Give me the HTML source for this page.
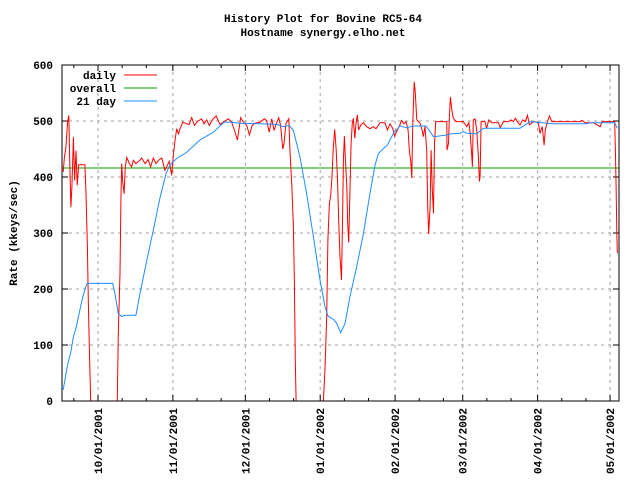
<!DOCTYPE html>
<html><head><meta charset="utf-8"><style>
body{margin:0;background:#fff}
svg text{font-family:"Liberation Mono",monospace;font-weight:bold;fill:#000}
</style></head><body>
<svg id="chart" width="640" height="480" viewBox="0 0 640 480" xmlns="http://www.w3.org/2000/svg">
<rect width="640" height="480" fill="#fff"/>
<text x="323" y="22" font-size="11" text-anchor="middle">History Plot for Bovine RC5-64</text>
<text x="323" y="36" font-size="11" text-anchor="middle">Hostname synergy.elho.net</text>
<text transform="translate(17,233) rotate(-90)" font-size="11" text-anchor="middle">Rate (kkeys/sec)</text>
<g id="grid"></g><g id="axes"></g><g id="series"></g>
<rect x="62" y="65" width="557" height="336" fill="none" stroke="#000" stroke-width="1"/>
<g>
<text x="116" y="79" font-size="11" text-anchor="end">daily</text>
<line x1="124" y1="75" x2="157" y2="75" stroke="#ff0000"/>
<text x="116" y="92" font-size="11" text-anchor="end">overall</text>
<line x1="124" y1="88" x2="157" y2="88" stroke="#00a000"/>
<text x="116" y="105" font-size="11" text-anchor="end">21 day</text>
<line x1="124" y1="101" x2="157" y2="101" stroke="#1e8cff"/>
</g>
</svg>
<script>
// x values = days since 10/01/2001
const monthDays=[0,31,61,92,123,151,182,212];
const monthLabels=["10/01/2001","11/01/2001","12/01/2001","01/01/2002","02/01/2002","03/01/2002","04/01/2002","05/01/2002"];
const yTicks=[0,100,200,300,400,500,600];
const overallValue=[416];
const dailyDays=[-14.4,-13.9,-13.3,-12.6,-12.1,-11.7,-11.2,-10.8,-10.2,-9.7,-9.1,-8.6,-8.0,-5.4,-5.0,-4.4,-4.0,-3.6,-3.0,8.0,8.4,9.1,9.5,9.8,10.2,10.8,11.3,11.9,13.0,13.9,14.6,15.7,17.4,18.1,19.5,20.8,21.8,22.9,24.0,25.1,26.4,27.7,28.4,29.5,30.5,31.2,31.9,32.6,33.3,34.0,35.1,36.7,37.7,38.8,39.9,41.1,42.9,43.9,45.0,46.1,47.5,48.9,50.5,52.2,54.0,55.3,56.5,57.7,59.1,60.2,61.6,62.7,63.8,65.0,67.1,68.9,69.8,70.9,71.9,72.9,73.7,74.8,75.6,76.5,77.0,77.8,79.0,79.5,80.3,80.9,81.3,81.7,82.0,93.3,94.0,94.7,95.2,95.8,96.3,96.9,97.4,98.0,98.6,99.1,99.7,100.2,100.8,101.3,101.6,102.0,102.4,103.0,103.4,103.8,104.3,104.8,105.3,105.7,106.3,106.8,107.4,107.9,108.8,109.9,111.2,112.6,114.0,115.1,116.8,118.8,119.8,120.9,122.0,122.8,123.9,124.8,125.7,126.7,127.5,128.4,128.9,129.5,129.9,130.3,130.9,131.3,132.0,133.3,134.2,134.7,135.4,136.1,136.5,136.9,137.5,137.9,138.4,138.9,139.3,139.8,141.6,144.4,144.5,145.1,145.5,145.9,146.5,147.1,148.2,151.3,152.7,153.5,154.0,154.6,155.0,155.4,156.1,156.8,157.5,157.9,158.2,158.6,160.2,160.9,161.8,163.0,165.8,166.5,167.9,170.0,170.9,172.0,172.8,173.6,174.7,175.8,176.9,177.8,178.6,180.3,182.3,183.0,183.9,184.7,185.2,186.1,186.9,187.9,199.6,200.4,201.7,205.1,207.9,208.7,213.9,214.2,214.5,214.8,215.0];
const dailyValues=[409,435,453,498,510,430,346,382,471,394,447,385,422,422,376,275,180,97,0,0,120,228,358,424,394,370,418,435,424,418,430,424,430,434,424,431,418,434,424,430,434,412,418,428,403,440,465,486,477,486,498,495,494,506,492,499,504,495,502,492,503,509,494,499,504,498,483,466,506,498,492,475,492,496,498,504,501,480,504,483,494,506,492,450,459,495,504,445,382,311,210,73,0,0,58,151,288,353,365,400,454,485,448,400,317,258,216,341,430,473,436,383,317,283,371,460,496,505,469,496,511,484,493,497,490,486,490,486,497,497,484,495,487,473,484,491,501,495,499,484,448,427,398,490,570,555,502,496,484,472,490,448,347,298,347,448,377,335,460,499,499,499,448,460,508,543,519,505,499,499,490,497,481,448,418,502,504,484,436,392,401,499,499,487,502,497,497,488,499,499,502,499,505,499,493,502,499,510,493,499,497,478,490,457,484,499,509,499,499,501,497,497,490,499,499,448,383,302,264];
const avgDays=[-14.4,-13.0,-12.3,-11.2,-10.2,-9.1,-8.0,-6.3,-5.0,-4.4,6.1,7.0,8.4,9.8,11.2,15.7,17.4,20.2,22.9,25.7,28.2,29.8,32.6,36.7,42.2,47.8,52.2,54.7,58.8,67.1,74.0,76.7,79.2,80.9,83.6,86.4,89.2,91.9,94.0,95.3,97.4,98.8,100.5,102.3,104.3,107.1,109.9,112.6,114.7,116.1,118.2,119.8,122.3,125.0,127.8,130.6,135.8,137.5,138.9,144.4,145.8,150.0,151.3,152.7,156.8,159.6,166.5,174.7,178.9,188.6,202.4,203.8,213.9,215.0];
const avgValues=[20,55,70,88,115,130,153,186,205,210,210,192,156,151,153,153,192,251,305,364,406,422,433,444,466,480,498,498,496,495,494,490,492,483,436,370,293,216,168,151,146,139,122,139,186,240,299,371,421,442,451,457,478,491,488,491,491,481,472,475,477,478,481,478,477,487,487,487,499,495,495,497,497,487];

const NS="http://www.w3.org/2000/svg";
const L=62,R=619,T=65,B=401,D0=-14.9,D1=215.7;
function xS(d){return L+(d-D0)/(D1-D0)*(R-L);}
function yS(v){return B-v/600*(B-T);}
function mk(tag,attrs,parent){const e=document.createElementNS(NS,tag);for(const k in attrs)e.setAttribute(k,attrs[k]);parent.appendChild(e);return e;}
const grid=document.getElementById('grid'),axes=document.getElementById('axes'),series=document.getElementById('series');
yTicks.forEach(v=>{
  const y=yS(v);
  if(v>0&&v<600){const g=mk('line',{x1:L,x2:R,y1:y,y2:y,stroke:'#a0a0a0','stroke-dasharray':'3,4'},grid);
  
  }
  mk('line',{x1:L,x2:L+6,y1:y,y2:y,stroke:'#000'},axes);
  mk('line',{x1:R-6,x2:R,y1:y,y2:y,stroke:'#000'},axes);
  const t=mk('text',{x:53,y:y+4,'font-size':'11','text-anchor':'end'},axes);
  t.textContent=v;
  
  
});
monthDays.forEach((d,i)=>{
  const x=xS(d);
  const g=mk('line',{x1:x,x2:x,y1:T,y2:B,stroke:'#a0a0a0','stroke-dasharray':'3,4'},grid);
  
  
  mk('line',{x1:x,x2:x,y1:B,y2:B-6,stroke:'#000'},axes);
  mk('line',{x1:x,x2:x,y1:T,y2:T+6,stroke:'#000'},axes);
  const t=mk('text',{transform:`translate(${x+4},408) rotate(-90)`,'font-size':'11','text-anchor':'end'},axes);
  t.textContent=monthLabels[i];
  
  
});
[-10].concat(...monthDays.map(d=>[d+10,d+20])).forEach(d=>{
  if(d<D0||d>D1)return;const x=xS(d);
  mk('line',{x1:x,x2:x,y1:B,y2:B-3,stroke:'#000'},axes);
  mk('line',{x1:x,x2:x,y1:T,y2:T+3,stroke:'#000'},axes);
});
const ov=mk('line',{x1:L,x2:R,y1:yS(overallValue[0]),y2:yS(overallValue[0]),stroke:'#00a000'},series);


function poly(days,vals,color){
  return mk('polyline',{points:days.map((d,i)=>xS(d).toFixed(1)+','+yS(vals[i]).toFixed(1)).join(' '),fill:'none',stroke:color,'stroke-width':'1'},series);
}
const dl=poly(dailyDays,dailyValues,'#ff0000');


const al=poly(avgDays,avgValues,'#1e8cff');


</script>
</body></html>
